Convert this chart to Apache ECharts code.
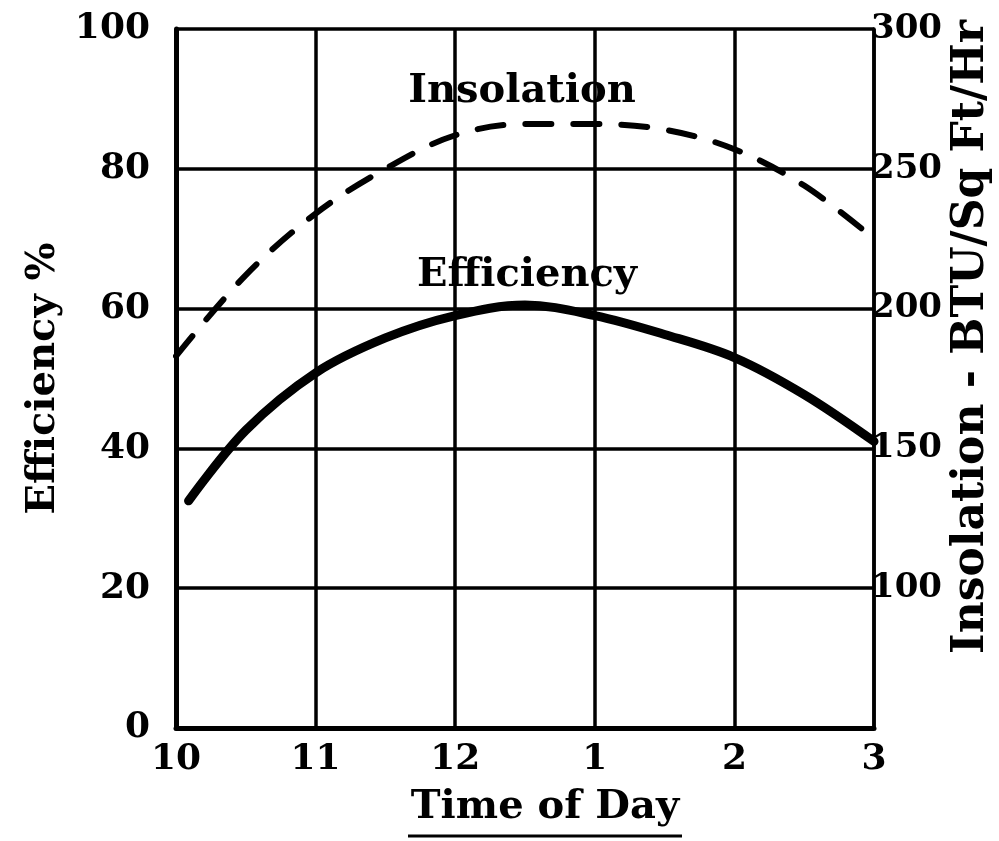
<!DOCTYPE html>
<html><head><meta charset="utf-8">
<script src="https://cdn.jsdelivr.net/npm/echarts@6/dist/echarts.min.js"></script>
<style>html,body{margin:0;padding:0;background:#fff}#c{width:999px;height:841px}</style>
</head><body><div id="c"></div>
<script>
// Tick labels (hours on a 24h scale, displayed as clock hours)
const hourTicks = [10, 11, 12, 13, 14, 15];
const hourLabels = ['10', '11', '12', '1', '2', '3'];
// Efficiency % (solid curve)
const effHours  = [10.09, 10.5, 11.0, 11.5, 12.0, 12.5, 13.0, 13.5, 14.0, 14.5, 15.0];
const effValues = [32.5,  42.6, 50.8, 55.8, 59.0, 60.5, 59.0, 56.3, 53.0, 47.7, 41.0];
// Insolation BTU/Sq Ft/Hr (dashed curve)
const insHours  = [10.0, 10.5, 11.0, 11.5, 12.0, 12.5, 13.0, 13.5, 14.0, 14.5, 15.0];
const insValues = [183,  212,  234,  250,  262,  266,  266,  264,  257,  244,  225];

const FONT = '"DejaVu Serif", "Liberation Serif", serif';
const chart = echarts.init(document.getElementById('c'), null, {renderer: 'canvas'});

const labelMap = {};
hourTicks.forEach((h, i) => { labelMap[h] = hourLabels[i]; });

chart.setOption({
  backgroundColor: '#fff',
  animation: false,
  grid: {left: 176, right: 125, top: 29, bottom: 113, containLabel: false},
  xAxis: {
    type: 'value', min: 10, max: 15, interval: 1,
    axisLine: {show: true, lineStyle: {color: '#000', width: 5}},
    axisTick: {show: false},
    splitLine: {show: true, lineStyle: {color: '#000', width: 3.5}},
    axisLabel: {
      color: '#000', fontFamily: FONT, fontWeight: 'bold', fontSize: 36, margin: 14,
      formatter: v => labelMap[v] !== undefined ? labelMap[v] : ''
    }
  },
  yAxis: [{
    type: 'value', min: 0, max: 100, interval: 20, position: 'left',
    name: 'Efficiency %', nameLocation: 'middle', nameGap: 112, nameRotate: 90,
    nameTextStyle: {color: '#000', fontFamily: FONT, fontWeight: 'bold', fontSize: 40},
    axisLine: {show: true, lineStyle: {color: '#000', width: 5}},
    axisTick: {show: false},
    splitLine: {show: true, lineStyle: {color: '#000', width: 3.5}},
    axisLabel: {color: '#000', fontFamily: FONT, fontWeight: 'bold', fontSize: 36, margin: 26}
  }, {
    type: 'value', min: 50, max: 300, interval: 50, position: 'right',
    axisLine: {show: true, lineStyle: {color: '#000', width: 3.5}},
    axisTick: {show: false},
    splitLine: {show: false},
    axisLabel: {
      color: '#000', fontFamily: FONT, fontWeight: 'bold', fontSize: 34, margin: -3,
      formatter: v => v === 50 ? '' : String(v)
    }
  }],
  series: [{
    name: 'Efficiency', type: 'line', yAxisIndex: 0, smooth: 0.35, showSymbol: false,
    data: effHours.map((h, i) => [h, effValues[i]]),
    lineStyle: {color: '#000', width: 9, cap: 'round'}
  }, {
    name: 'Insolation', type: 'line', yAxisIndex: 1, smooth: 0.35, showSymbol: false,
    data: insHours.map((h, i) => [h, insValues[i]]),
    lineStyle: {color: '#000', width: 6, type: [26, 22], cap: 'round'}
  }],
  graphic: [
    {type: 'text', x: 522, y: 92, style: {text: 'Insolation', font: 'bold 40px ' + FONT, fill: '#000', align: 'center', verticalAlign: 'middle'}},
    {type: 'text', x: 527, y: 276, style: {text: 'Efficiency', font: 'bold 40px ' + FONT, fill: '#000', align: 'center', verticalAlign: 'middle'}},
    {type: 'text', x: 545, y: 808, style: {text: 'Time of Day', font: 'bold 40px ' + FONT, fill: '#000', align: 'center', verticalAlign: 'middle'}},
    {type: 'line', shape: {x1: 408, y1: 836, x2: 682, y2: 836}, style: {stroke: '#000', lineWidth: 3}},
    {type: 'text', x: 972, y: 337, rotation: Math.PI / 2, style: {text: 'Insolation - BTU/Sq Ft/Hr', font: 'bold 44px ' + FONT, fill: '#000', align: 'center', verticalAlign: 'middle'}}
  ]
});
</script></body></html>
